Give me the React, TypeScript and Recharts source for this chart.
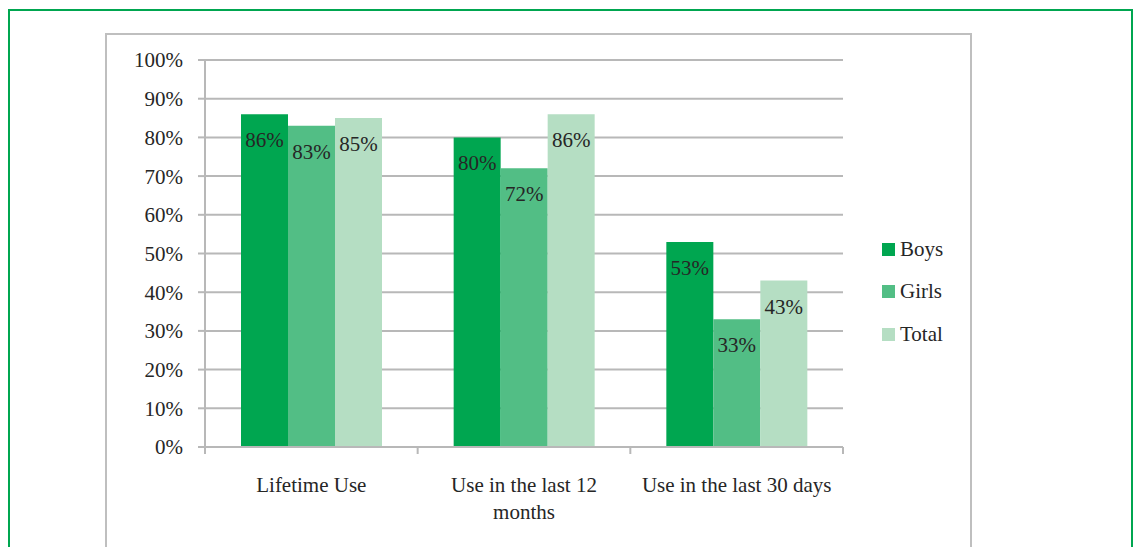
import React from 'react';
import { BarChart, Bar, XAxis, YAxis, CartesianGrid, LabelList, Legend } from 'recharts';

const categories = ['Lifetime Use', 'Use in the last 12\nmonths', 'Use in the last 30 days'];
const boys = [86, 80, 53];
const girls = [83, 72, 33];
const total = [85, 86, 43];
const yTicks = [0, 10, 20, 30, 40, 50, 60, 70, 80, 90, 100];
const seriesNames = ['Boys', 'Girls', 'Total'];

const data = categories.map((c, i) => ({ name: c, Boys: boys[i], Girls: girls[i], Total: total[i] }));

const COLORS = ['#00a650', '#52be85', '#b5dec3'];
const FONT = '"Liberation Serif", "Times New Roman", serif';
const TEXT = '#262626';
const GRID = '#b8b8b8';

const W = 1139;
const H = 547;
const PLOT_LEFT = 205;
const PLOT_RIGHT = 843;
const PLOT_TOP = 60;
const PLOT_BOTTOM = 447;
const BAND = (PLOT_RIGHT - PLOT_LEFT) / categories.length;

const XTick = (props: any) => {
  const { x, y, payload, index } = props;
  const left = x - BAND / 2;
  const right = x + BAND / 2;
  const lines = String(payload.value).split('\n');
  return (
    <g>
      <line x1={left} y1={y} x2={left} y2={y + 7} stroke={GRID} strokeWidth={2} />
      {index === categories.length - 1 && (
        <line x1={right} y1={y} x2={right} y2={y + 7} stroke={GRID} strokeWidth={2} />
      )}
      <text x={x} y={y + 45} textAnchor="middle" fill={TEXT} fontFamily={FONT} fontSize={21}>
        {lines.map((l, k) => (
          <tspan key={k} x={x} dy={k === 0 ? 0 : 27}>
            {l}
          </tspan>
        ))}
      </text>
    </g>
  );
};

const LegendContent = (props: any) => {
  const { payload } = props;
  return (
    <div style={{ fontFamily: FONT, fontSize: 21, color: TEXT }}>
      {(payload || []).map((p: any, i: number) => (
        <div key={i} style={{ display: 'flex', alignItems: 'center', height: 42.5 }}>
          <span style={{ display: 'inline-block', width: 13, height: 13, background: p.color, marginRight: 5 }} />
          <span>{p.value}</span>
        </div>
      ))}
    </div>
  );
};

export default function App() {
  return (
    <div style={{ position: 'absolute', left: 0, top: 0, width: W, height: H, overflow: 'hidden', background: '#fff', fontFamily: FONT }}>
      <div style={{ position: 'absolute', left: 8, top: 9, width: 1125, height: 700, border: '2px solid #00a650', boxSizing: 'border-box' }} />
      <div style={{ position: 'absolute', left: 105, top: 33, width: 867, height: 700, border: '2px solid #bfbfbf', boxSizing: 'border-box' }} />
      <div style={{ position: 'absolute', left: 0, top: 0 }}>
        <BarChart
          width={W}
          height={H}
          data={data}
          margin={{ top: PLOT_TOP, right: W - PLOT_RIGHT, bottom: 0, left: 0 }}
          barCategoryGap={36}
          barGap={0}
        >
          <CartesianGrid vertical={false} stroke={GRID} strokeWidth={2} />
          <XAxis
            dataKey="name"
            height={H - PLOT_BOTTOM}
            axisLine={{ stroke: GRID, strokeWidth: 2 }}
            tickLine={false}
            tickSize={0}
            tickMargin={0}
            interval={0}
            tick={<XTick />}
          />
          <YAxis
            width={PLOT_LEFT}
            domain={[0, 100]}
            ticks={yTicks}
            tickFormatter={(v: number) => `${v}%`}
            axisLine={{ stroke: GRID, strokeWidth: 2 }}
            tickLine={{ stroke: GRID, strokeWidth: 2 }}
            tickSize={7}
            tickMargin={15}
            tick={{ fill: TEXT, fontSize: 21, fontFamily: FONT }}
            interval={0}
          />
          <Legend
            layout="vertical"
            align="center"
            verticalAlign="middle"
            wrapperStyle={{ left: 882, top: 228, width: 100 }}
            content={<LegendContent />}
          />
          {seriesNames.map((s, i) => (
            <Bar key={s} dataKey={s} fill={COLORS[i]} isAnimationActive={false}>
              <LabelList
                dataKey={s}
                position="insideTop"
                offset={18}
                formatter={(v: any) => `${v}%`}
                fill={TEXT}
                fontFamily={FONT}
                fontSize={21}
                style={{ fontSize: 21, fontFamily: FONT }}
              />
            </Bar>
          ))}
        </BarChart>
      </div>
    </div>
  );
}
